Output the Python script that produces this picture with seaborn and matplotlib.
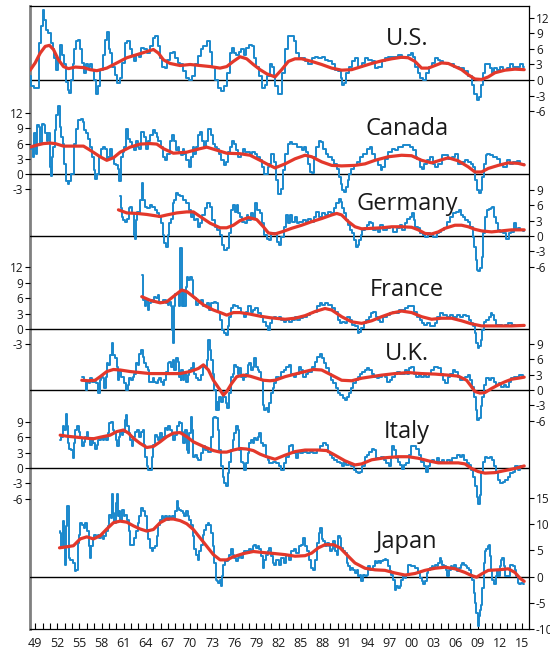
import numpy as np
import matplotlib
matplotlib.use("Agg")
import matplotlib.pyplot as plt
import seaborn as sns

# ---------------- data ----------------
us_t = [
1948.32, 1948.55, 1949.23, 1949.45, 1949.59, 1949.90, 1950.13, 1950.36, 1950.58, 1950.94,
1951.26, 1951.48, 1951.71, 1951.94, 1952.16, 1952.52, 1952.84, 1953.07, 1953.29, 1953.52,
1953.74, 1953.97, 1954.19, 1954.42, 1954.65, 1955.01, 1955.23, 1955.46, 1955.78, 1956.00,
1956.23, 1956.54, 1956.90, 1957.13, 1957.36, 1957.67, 1958.03, 1958.35, 1958.62, 1958.85,
1959.07, 1959.30, 1959.62, 1959.98, 1960.29, 1960.61, 1960.97, 1961.33, 1961.65, 1961.96,
1962.32, 1962.55, 1962.87, 1963.23, 1963.59, 1963.90, 1964.36, 1964.81, 1965.12, 1965.49,
1965.80, 1966.07, 1966.39, 1966.71, 1967.07, 1967.52, 1967.83, 1968.20, 1968.51, 1968.87,
1969.33, 1969.69, 1970.00, 1970.45, 1970.91, 1971.27, 1971.58, 1972.04, 1972.49, 1972.80,
1973.16, 1973.62, 1974.07, 1974.43, 1974.88, 1975.20, 1975.51, 1975.78, 1976.10, 1976.42,
1976.78, 1977.14, 1977.46, 1977.77, 1978.13, 1978.58, 1978.81, 1979.13, 1979.58, 1979.94,
1980.30, 1980.62, 1980.93, 1981.29, 1981.45, 1981.60, 1982.20, 1982.65, 1983.10, 1983.55,
1983.87, 1984.23, 1984.59, 1984.91, 1985.36, 1985.81, 1986.26, 1986.71, 1987.17, 1987.62,
1988.07, 1988.52, 1988.97, 1989.42, 1989.88, 1990.33, 1990.55, 1990.78, 1991.00, 1991.37,
1991.68, 1992.13, 1992.59, 1993.04, 1993.49, 1993.94, 1994.39, 1994.84, 1995.30, 1995.75,
1996.20, 1996.65, 1997.10, 1997.55, 1998.01, 1998.46, 1998.91, 1999.36, 1999.81, 2000.13,
2000.40, 2000.72, 2001.03, 2001.39, 2001.85, 2002.21, 2002.52, 2002.97, 2003.43, 2003.74,
2004.10, 2004.56, 2005.01, 2005.46, 2006.14, 2006.81, 2007.49, 2007.94, 2008.40, 2008.71,
2009.07, 2009.39, 2009.61, 2009.88, 2010.20, 2010.43, 2010.79, 2011.10, 2011.42, 2011.78,
2012.23, 2012.69, 2013.14, 2013.59, 2014.04, 2014.49, 2014.94, 2015.30]
us_v = [
0.8, -1.2, -1.5, -1.5, 7.2, 10.4, 13.5, 11.7, 9.7, 9.1,
7.2, 5.9, 4.3, 2.0, 3.9, 6.8, 4.9, 3.0, -0.3, -1.9,
-2.5, 0.0, 3.0, 5.9, 7.5, 7.8, 5.9, 3.3, 1.4, 3.0,
2.6, 3.0, 2.0, 0.0, -2.8, -1.2, 2.0, 4.9, 7.8, 9.3,
5.9, 5.2, 2.6, 1.0, -0.6, 0.4, 3.3, 7.2, 7.5, 5.9,
4.9, 3.6, 4.9, 4.5, 6.2, 5.9, 5.2, 6.5, 8.1, 8.5,
6.5, 4.3, 2.6, 2.3, 3.9, 5.2, 5.5, 4.3, 3.3, 3.0,
1.7, 0.4, 0.0, 0.7, 3.0, 4.6, 5.9, 6.5, 7.5, 5.5,
2.6, 0.0, -1.5, -2.2, -1.2, 1.4, 5.2, 6.2, 5.2, 4.9,
5.5, 5.9, 4.9, 6.2, 6.8, 6.5, 4.3, 2.6, 0.7, -1.5,
-0.9, 0.7, 3.0, 2.6, 0.7, -1.2, -2.8, 1.4, 5.9, 8.5,
8.6, 7.5, 5.2, 4.3, 4.3, 3.6, 3.0, 4.3, 4.5, 4.3,
4.5, 3.9, 3.6, 3.0, 2.0, 1.7, 0.4, -0.9, -0.6, 1.4,
2.6, 3.6, 4.3, 2.6, 3.2, 4.3, 3.9, 3.6, 2.3, 2.6,
3.6, 4.3, 4.5, 4.4, 4.5, 4.9, 4.3, 4.5, 4.9, 5.2,
4.5, 2.6, 1.4, 0.4, 0.0, 1.4, 2.6, 3.3, 4.3, 3.9,
3.6, 3.3, 3.0, 3.0, 2.6, 2.3, 1.7, 0.7, -0.9, -2.8,
-3.8, -3.2, -0.9, 1.4, 3.0, 3.0, 2.3, 1.4, 2.3, 2.0,
2.6, 2.0, 2.3, 3.0, 2.6, 2.6, 3.0, 2.6]
us_trend_t = [
1948.32, 1949.00, 1949.68, 1950.36, 1950.94, 1951.48, 1952.16, 1952.84, 1953.52, 1954.42,
1955.55, 1956.45, 1957.36, 1958.71, 1960.07, 1961.42, 1962.78, 1964.13, 1965.03, 1965.71,
1966.39, 1967.29, 1968.65, 1970.00, 1971.36, 1972.71, 1974.07, 1974.97, 1975.87, 1976.78,
1977.68, 1978.58, 1979.49, 1980.39, 1981.52, 1982.42, 1983.33, 1984.23, 1985.13, 1986.49,
1987.84, 1989.20, 1990.55, 1991.91, 1993.26, 1994.62, 1995.97, 1997.33, 1998.68, 1999.59,
2000.49, 2001.39, 2002.30, 2003.20, 2004.10, 2005.01, 2005.91, 2006.81, 2007.72, 2008.62,
2009.52, 2010.43, 2011.33, 2012.69, 2014.04, 2015.30]
us_trend_v = [
1.9, 3.3, 5.2, 6.5, 6.7, 5.9, 3.9, 2.6, 2.2, 2.5,
2.4, 2.0, 1.8, 2.3, 3.3, 4.3, 4.9, 5.5, 5.9, 5.2,
3.9, 3.2, 2.8, 3.0, 2.8, 2.6, 2.3, 2.6, 3.6, 4.5,
4.1, 3.0, 2.0, 1.2, 0.6, 2.0, 3.6, 4.1, 4.1, 3.6,
3.0, 2.3, 1.9, 2.0, 2.6, 3.2, 3.7, 4.1, 4.4, 4.3,
3.6, 2.3, 2.3, 2.8, 3.3, 3.2, 2.6, 2.0, 1.0, 0.2,
0.1, 0.6, 1.4, 1.9, 2.1, 2.0]

ca_t = [
1948.32, 1948.55, 1948.77, 1949.00, 1949.23, 1949.36, 1949.59, 1949.77, 1950.04, 1950.27,
1950.49, 1950.67, 1950.90, 1951.12, 1951.26, 1951.39, 1951.57, 1951.75, 1951.98, 1952.21,
1952.39, 1952.61, 1952.84, 1953.07, 1953.29, 1953.52, 1953.74, 1953.97, 1954.19, 1954.42,
1954.65, 1955.01, 1955.32, 1955.55, 1955.78, 1956.09, 1956.36, 1956.54, 1956.81, 1957.04,
1957.27, 1957.49, 1957.72, 1958.03, 1958.35, 1958.62, 1958.80, 1959.03, 1959.25, 1959.52,
1959.84, 1960.07, 1960.29, 1960.52, 1960.74, 1960.97, 1961.20, 1961.51, 1961.74, 1961.96,
1962.19, 1962.55, 1962.78, 1963.00, 1963.23, 1963.59, 1963.82, 1964.13, 1964.45, 1964.81,
1965.12, 1965.35, 1965.58, 1965.85, 1966.16, 1966.39, 1966.71, 1967.07, 1967.38, 1967.65,
1967.97, 1968.20, 1968.42, 1968.65, 1968.87, 1969.10, 1969.33, 1969.64, 1970.00, 1970.23,
1970.45, 1970.68, 1970.91, 1971.22, 1971.49, 1971.81, 1972.04, 1972.26, 1972.62, 1972.94,
1973.16, 1973.52, 1973.84, 1974.07, 1974.43, 1974.75, 1974.97, 1975.29, 1975.60, 1975.87,
1976.15, 1976.42, 1976.69, 1977.00, 1977.23, 1977.59, 1977.91, 1978.22, 1978.58, 1978.95,
1979.26, 1979.58, 1979.94, 1980.16, 1980.39, 1980.62, 1980.84, 1981.07, 1981.29, 1981.52,
1981.75, 1982.20, 1982.42, 1982.65, 1983.10, 1983.42, 1983.69, 1984.00, 1984.32, 1984.68,
1985.04, 1985.36, 1985.59, 1985.81, 1986.04, 1986.40, 1986.71, 1986.94, 1987.30, 1987.53,
1987.84, 1988.21, 1988.52, 1988.97, 1989.42, 1989.65, 1990.10, 1990.33, 1990.55, 1990.78,
1991.00, 1991.23, 1991.46, 1991.68, 1992.00, 1992.36, 1992.81, 1993.26, 1993.72, 1994.17,
1994.53, 1994.84, 1995.30, 1995.75, 1995.97, 1996.20, 1996.65, 1997.10, 1997.55, 1998.01,
1998.32, 1998.68, 1999.14, 1999.59, 2000.04, 2000.49, 2000.72, 2000.94, 2001.39, 2001.62,
2001.94, 2002.30, 2002.66, 2003.11, 2003.43, 2003.88, 2004.33, 2004.78, 2005.23, 2005.68,
2006.14, 2006.59, 2007.04, 2007.49, 2007.94, 2008.26, 2008.53, 2008.76, 2008.98, 2009.30,
2009.52, 2009.75, 2009.98, 2010.20, 2010.43, 2010.88, 2011.33, 2011.78, 2012.23, 2012.69,
2013.14, 2013.59, 2014.04, 2014.49, 2014.94, 2015.30]
ca_v = [
5.0, 5.3, 3.4, 8.0, 4.0, 9.6, 9.3, 6.0, 9.9, 9.6,
8.0, 6.6, 8.0, 1.4, -0.3, 3.4, 5.3, 8.6, 11.6, 13.4,
9.3, 7.3, 6.0, 2.0, -1.3, -2.0, -1.3, 0.0, 0.0, 6.0,
8.9, 10.6, 10.9, 10.3, 8.6, 8.0, 7.0, 5.3, 3.4, 0.7,
-0.9, 0.0, 3.4, 5.0, 5.3, 5.0, 2.7, 3.4, 5.0, 3.4,
2.0, 1.7, 1.0, -1.3, 3.4, 4.3, 5.3, 8.9, 7.0, 6.3,
5.3, 4.7, 6.6, 5.3, 5.0, 8.3, 7.3, 5.0, 6.6, 7.6,
8.6, 8.0, 7.3, 6.6, 5.3, 3.4, 2.7, 4.0, 6.6, 7.6,
6.6, 4.7, 5.3, 4.3, 3.7, 5.0, 4.0, 2.7, 1.4, 3.4,
5.3, 4.0, 5.3, 7.6, 8.3, 6.6, 5.3, 6.6, 8.9, 7.6,
6.0, 5.3, 5.0, 4.0, 2.7, 1.7, 2.4, 4.3, 5.3, 6.6,
6.0, 4.7, 3.4, 4.0, 5.0, 4.3, 4.3, 4.0, 4.3, 4.0,
3.4, 2.7, 1.4, 0.0, 0.0, 1.4, 2.0, 4.0, 4.0, 2.4,
-1.2, -3.9, -2.9, 0.7, 4.0, 6.0, 6.3, 6.0, 6.0, 5.3,
5.3, 4.7, 5.3, 4.3, 2.0, 0.4, 0.1, 3.4, 5.3, 6.6,
6.3, 5.0, 4.0, 3.4, 2.7, 2.0, 1.0, -0.6, -1.9, -3.2,
-3.6, -2.6, -1.2, 0.0, 1.0, 1.7, 2.4, 3.4, 4.0, 5.0,
5.3, 4.0, 2.7, 1.7, 0.7, 1.4, 3.0, 4.3, 5.0, 4.7,
5.3, 5.3, 5.7, 5.7, 5.3, 4.7, 3.4, 3.0, 1.4, 1.0,
2.0, 2.7, 3.4, 2.0, 1.4, 2.0, 3.7, 3.7, 3.0, 3.4,
3.9, 2.0, 2.4, 2.7, 2.4, 2.0, 1.4, -1.2, -3.2, -3.8,
-3.2, -0.6, 2.0, 3.7, 4.0, 3.7, 3.4, 3.0, 2.0, 1.4,
2.7, 2.0, 2.4, 2.5, 2.0, 1.9]
ca_trend_t = [
1948.32, 1949.23, 1950.13, 1951.03, 1951.71, 1952.84, 1954.19, 1955.55, 1956.45, 1957.81,
1958.71, 1959.61, 1960.52, 1961.87, 1963.23, 1964.58, 1965.49, 1966.39, 1967.74, 1969.55,
1971.36, 1972.26, 1973.62, 1974.97, 1976.78, 1978.13, 1979.49, 1980.39, 1981.52, 1982.88,
1984.23, 1985.59, 1986.49, 1987.84, 1989.20, 1990.55, 1992.36, 1993.72, 1995.07, 1996.88,
1998.68, 2000.04, 2001.39, 2002.75, 2004.10, 2005.01, 2006.36, 2007.72, 2008.62, 2009.52,
2010.43, 2011.78, 2013.14, 2014.49, 2015.30]
ca_trend_v = [
5.3, 5.7, 6.0, 6.1, 6.0, 5.5, 5.5, 5.5, 4.7, 3.4,
2.7, 3.2, 4.3, 5.3, 5.9, 6.0, 5.9, 5.0, 4.1, 4.3,
5.0, 5.3, 4.7, 4.1, 4.0, 3.7, 2.7, 2.0, 1.2, 2.0,
3.0, 3.7, 3.4, 2.4, 1.7, 1.6, 1.7, 2.0, 2.7, 3.4,
3.7, 3.6, 2.7, 2.2, 2.8, 3.2, 2.6, 1.4, 0.4, 0.4,
1.1, 1.7, 2.2, 2.1, 1.8]

de_t = [
1960.52, 1960.65, 1960.88, 1961.06, 1961.33, 1961.56, 1961.78, 1962.01, 1962.23, 1962.46,
1962.55, 1962.69, 1962.91, 1963.14, 1963.36, 1963.59, 1963.77, 1964.00, 1964.36, 1964.67,
1965.03, 1965.35, 1965.71, 1965.94, 1966.16, 1966.39, 1966.62, 1966.84, 1967.07, 1967.29,
1967.52, 1967.74, 1967.97, 1968.20, 1968.51, 1968.87, 1969.33, 1969.64, 1970.00, 1970.23,
1970.45, 1970.68, 1970.91, 1971.27, 1971.49, 1971.81, 1972.13, 1972.49, 1972.80, 1973.16,
1973.52, 1973.84, 1974.20, 1974.52, 1974.79, 1975.11, 1975.42, 1975.74, 1975.96, 1976.19,
1976.42, 1976.69, 1976.96, 1977.23, 1977.55, 1977.77, 1978.04, 1978.36, 1978.67, 1978.95,
1979.26, 1979.62, 1979.94, 1980.21, 1980.53, 1980.84, 1981.20, 1981.52, 1981.97, 1982.20,
1982.51, 1982.88, 1983.10, 1983.42, 1983.69, 1984.00, 1984.32, 1984.59, 1985.04, 1985.49,
1985.81, 1986.26, 1986.58, 1986.94, 1987.30, 1987.62, 1988.07, 1988.52, 1988.97, 1989.29,
1989.65, 1990.01, 1990.33, 1990.55, 1990.78, 1991.00, 1991.23, 1991.46, 1991.82, 1992.13,
1992.36, 1992.59, 1992.81, 1993.04, 1993.26, 1993.49, 1993.81, 1994.17, 1994.39, 1994.62,
1994.98, 1995.30, 1995.61, 1995.97, 1996.43, 1996.88, 1997.33, 1997.78, 1998.23, 1998.59,
1998.91, 1999.36, 1999.59, 1999.95, 2000.22, 2000.40, 2000.67, 2001.03, 2001.39, 2001.71,
2002.07, 2002.39, 2002.75, 2003.11, 2003.38, 2003.65, 2003.92, 2004.24, 2004.56, 2005.01,
2005.46, 2005.91, 2006.27, 2006.59, 2006.90, 2007.18, 2007.49, 2007.81, 2008.17, 2008.44,
2008.62, 2008.85, 2008.98, 2009.16, 2009.43, 2009.61, 2009.88, 2010.07, 2010.34, 2010.65,
2010.88, 2011.10, 2011.33, 2011.56, 2011.87, 2012.23, 2012.69, 2013.05, 2013.36, 2013.68,
2014.04, 2014.27, 2014.58, 2014.94, 2015.30]
de_v = [
7.7, 5.4, 3.8, 3.1, 2.8, 3.4, 5.4, 5.7, 4.4, 0.2,
-0.5, 3.1, 4.7, 4.4, 7.0, 10.3, 7.0, 5.7, 5.4, 6.0,
5.7, 5.1, 4.4, 3.8, 2.5, 0.2, -1.4, -2.1, 0.2, 2.5,
3.4, 6.4, 7.0, 8.3, 8.0, 7.7, 7.0, 6.4, 5.1, 3.8,
4.7, 3.1, 3.4, 1.8, 2.5, 4.1, 5.4, 6.5, 5.7, 3.1,
1.8, 1.2, 0.2, -1.8, -2.7, -2.4, 0.5, 5.1, 6.0, 4.7,
6.0, 4.4, 3.8, 2.8, 2.5, 4.1, 3.1, 4.4, 3.4, 6.4,
5.1, 4.4, 2.5, 0.2, -0.5, -0.8, 0.5, 0.5, -1.1, -1.8,
-0.1, 1.8, 4.1, 2.5, 4.1, 2.8, 3.8, 2.5, 2.8, 3.1,
2.5, 3.4, 2.8, 3.8, 4.7, 3.8, 4.4, 4.1, 4.7, 4.4,
5.4, 6.4, 7.3, 6.6, 5.4, 4.4, 3.1, 2.1, 1.2, 0.5,
-0.8, -2.1, -1.8, -0.8, 0.2, 1.2, 1.5, 2.1, 2.8, 2.5,
1.2, 1.5, 0.8, 2.1, 1.2, 1.5, 1.8, 0.8, 1.5, 2.1,
1.2, 2.5, 3.4, 3.8, 4.4, 3.1, 1.8, 1.5, 0.5, 0.2,
-0.1, 0.5, 0.2, -0.1, -0.1, 0.5, 0.8, 1.2, 1.5, 2.8,
3.8, 4.4, 4.7, 5.1, 4.1, 3.8, 3.1, 2.8, 1.8, -0.1,
-2.1, -4.7, -6.6, -6.9, -6.3, -4.0, 0.5, 3.8, 5.1, 5.2,
5.4, 5.7, 3.8, 2.5, 1.2, 0.8, 0.5, -0.5, 0.5, 0.8,
2.5, 1.2, 1.5, 1.2, 1.0]
de_trend_t = [
1960.29, 1961.42, 1962.78, 1964.13, 1965.94, 1966.84, 1968.20, 1969.55, 1970.45, 1971.36,
1972.71, 1974.07, 1974.97, 1975.87, 1976.78, 1977.91, 1979.04, 1979.94, 1980.62, 1981.52,
1982.42, 1983.78, 1985.13, 1986.49, 1987.84, 1989.20, 1989.88, 1990.55, 1991.46, 1992.36,
1993.26, 1994.62, 1995.97, 1997.33, 1998.68, 2000.04, 2000.94, 2001.85, 2002.75, 2003.65,
2004.56, 2005.91, 2006.81, 2007.72, 2008.62, 2009.52, 2010.88, 2012.23, 2013.59, 2015.30]
de_trend_v = [
5.1, 4.5, 4.4, 4.2, 3.8, 4.1, 4.5, 4.7, 4.7, 3.8,
2.5, 1.6, 1.6, 2.1, 3.0, 3.6, 3.2, 1.8, 0.6, 0.4,
0.8, 1.5, 2.1, 2.8, 3.4, 4.1, 4.4, 4.1, 2.8, 1.8,
1.4, 1.5, 1.6, 1.8, 1.8, 1.7, 1.2, 0.5, 0.4, 0.8,
1.5, 2.1, 2.1, 1.8, 1.3, 1.0, 0.8, 1.0, 1.2, 1.2]

fr_t = [
1963.45, 1963.77, 1963.91, 1964.13, 1964.36, 1964.58, 1964.81, 1965.03, 1965.26, 1965.49,
1965.71, 1965.94, 1966.25, 1966.52, 1966.84, 1967.07, 1967.29, 1967.52, 1967.65, 1967.79,
1967.92, 1968.11, 1968.33, 1968.56, 1968.78, 1968.92, 1969.10, 1969.33, 1969.46, 1969.64,
1969.87, 1970.09, 1970.32, 1970.45, 1970.68, 1970.91, 1971.27, 1971.58, 1971.90, 1972.17,
1972.49, 1972.71, 1973.07, 1973.39, 1973.62, 1973.93, 1974.20, 1974.43, 1974.75, 1974.97,
1975.20, 1975.42, 1975.65, 1975.96, 1976.33, 1976.78, 1977.14, 1977.46, 1977.77, 1978.04,
1978.36, 1978.67, 1979.04, 1979.40, 1979.71, 1980.07, 1980.39, 1980.71, 1980.93, 1981.20,
1981.52, 1981.88, 1982.20, 1982.51, 1982.88, 1983.24, 1983.55, 1984.00, 1984.32, 1984.68,
1985.13, 1985.59, 1986.04, 1986.49, 1986.94, 1987.39, 1987.71, 1988.07, 1988.52, 1988.97,
1989.42, 1989.88, 1990.19, 1990.46, 1990.78, 1991.10, 1991.46, 1991.82, 1992.13, 1992.59,
1992.81, 1993.04, 1993.35, 1993.72, 1994.08, 1994.39, 1994.71, 1994.98, 1995.30, 1995.61,
1995.97, 1996.43, 1996.88, 1997.33, 1997.78, 1998.14, 1998.46, 1998.91, 1999.36, 1999.81,
2000.13, 2000.49, 2000.94, 2001.30, 2001.62, 2001.94, 2002.30, 2002.75, 2003.11, 2003.43,
2003.65, 2004.10, 2004.56, 2005.01, 2005.46, 2005.91, 2006.36, 2006.81, 2007.27, 2007.63,
2007.94, 2008.26, 2008.53, 2008.71, 2008.89, 2009.07, 2009.30, 2009.52, 2009.75, 2009.98,
2010.34, 2010.65, 2010.88, 2011.10, 2011.33, 2011.69, 2012.01, 2012.46, 2012.91, 2013.36,
2013.81, 2014.27, 2014.72, 2015.30]
fr_v = [
10.5, 5.6, 4.4, 5.6, 3.7, 5.0, 5.6, 5.3, 6.3, 6.0,
6.6, 5.3, 5.0, 5.6, 5.0, 4.7, 5.3, 4.4, -0.2, -2.8,
4.4, 6.9, 6.9, 4.4, 15.7, 4.4, 7.6, 4.4, 8.2, 10.2,
9.5, 10.2, 9.5, 6.3, 6.0, 4.7, 5.0, 5.6, 4.4, 4.7,
5.0, 3.7, 5.0, 5.3, 5.0, 3.4, 1.8, -0.2, -0.8, -1.2,
0.5, 2.4, 4.0, 4.7, 4.5, 4.0, 3.1, 2.4, 3.4, 4.4,
3.4, 3.7, 4.0, 3.1, 2.4, 1.4, 0.5, -0.2, 1.1, 2.1,
2.4, 2.1, 2.4, 1.8, 1.4, 1.8, 1.4, 1.8, 2.4, 1.8,
2.1, 2.4, 2.7, 3.1, 3.4, 4.4, 5.0, 4.7, 5.0, 4.7,
4.0, 3.4, 1.8, 1.1, 1.4, 1.1, 2.4, 1.8, 0.8, 0.5,
-0.8, -0.5, 0.1, 1.1, 1.8, 2.4, 3.1, 3.4, 2.4, 1.8,
1.4, 2.4, 2.7, 3.1, 3.4, 3.1, 3.7, 3.7, 4.0, 4.5,
4.4, 3.4, 2.4, 1.8, 1.1, 0.8, 1.1, 0.5, 0.5, 1.1,
2.4, 3.1, 2.7, 2.4, 2.7, 2.4, 2.7, 2.4, 2.7, 2.5,
1.8, 1.1, 0.5, -0.8, -2.8, -3.8, -3.4, -2.1, -0.2, 1.4,
1.8, 2.4, 3.1, 2.7, 1.8, 0.8, 0.8, 0.5, 0.8, 1.1,
0.8, 0.5, 0.6, 0.6]
fr_trend_t = [
1963.45, 1964.58, 1965.94, 1966.84, 1967.97, 1968.87, 1969.55, 1970.45, 1971.81, 1973.16,
1974.29, 1974.97, 1975.87, 1976.78, 1978.13, 1979.49, 1980.84, 1981.52, 1982.88, 1984.23,
1985.59, 1986.94, 1988.30, 1989.20, 1990.55, 1991.91, 1993.26, 1994.62, 1995.97, 1997.33,
1998.68, 2000.04, 2001.39, 2002.75, 2004.10, 2005.46, 2006.81, 2008.17, 2009.52, 2010.88,
2012.23, 2013.59, 2015.30]
fr_trend_v = [
6.3, 5.6, 5.1, 5.3, 6.6, 7.6, 7.3, 6.3, 4.7, 3.7,
3.1, 2.7, 3.2, 3.2, 2.9, 2.5, 2.2, 2.1, 1.9, 2.1,
2.6, 3.4, 4.0, 3.7, 2.4, 1.4, 1.1, 1.6, 2.4, 3.1,
3.5, 3.2, 2.4, 1.9, 2.1, 2.1, 1.6, 1.0, 0.6, 0.6,
0.6, 0.6, 0.7]

uk_t = [
1955.32, 1955.55, 1955.78, 1956.00, 1956.14, 1956.36, 1956.59, 1956.81, 1957.13, 1957.45,
1957.67, 1957.81, 1958.03, 1958.26, 1958.49, 1958.62, 1958.80, 1959.03, 1959.25, 1959.48,
1959.70, 1959.98, 1960.16, 1960.29, 1960.52, 1960.74, 1960.97, 1961.20, 1961.42, 1961.65,
1961.87, 1962.10, 1962.32, 1962.55, 1962.78, 1963.00, 1963.23, 1963.45, 1963.68, 1963.91,
1964.13, 1964.36, 1964.58, 1964.81, 1965.03, 1965.26, 1965.49, 1965.71, 1965.94, 1966.16,
1966.39, 1966.62, 1966.84, 1967.07, 1967.29, 1967.52, 1967.74, 1967.97, 1968.20, 1968.42,
1968.65, 1968.78, 1968.87, 1969.10, 1969.33, 1969.55, 1969.78, 1970.00, 1970.23, 1970.45,
1970.68, 1970.91, 1971.27, 1971.58, 1971.90, 1972.17, 1972.35, 1972.58, 1972.80, 1972.98,
1973.16, 1973.39, 1973.52, 1973.70, 1973.88, 1974.07, 1974.29, 1974.52, 1974.75, 1974.97,
1975.15, 1975.42, 1975.65, 1975.87, 1976.10, 1976.33, 1976.55, 1976.78, 1977.00, 1977.23,
1977.46, 1977.68, 1977.91, 1978.13, 1978.36, 1978.58, 1978.81, 1979.04, 1979.26, 1979.49,
1979.71, 1979.94, 1980.16, 1980.39, 1980.62, 1980.84, 1981.07, 1981.29, 1981.52, 1981.88,
1982.20, 1982.51, 1982.88, 1983.24, 1983.55, 1983.87, 1984.23, 1984.59, 1984.91, 1985.13,
1985.49, 1985.81, 1986.26, 1986.71, 1987.03, 1987.39, 1987.71, 1987.93, 1988.30, 1988.61,
1988.97, 1989.29, 1989.56, 1989.88, 1990.19, 1990.55, 1990.87, 1991.10, 1991.37, 1991.68,
1992.00, 1992.27, 1992.59, 1992.90, 1993.17, 1993.49, 1993.81, 1994.17, 1994.48, 1994.84,
1995.16, 1995.52, 1995.84, 1996.20, 1996.52, 1996.88, 1997.24, 1997.55, 1997.92, 1998.23,
1998.59, 1998.91, 1999.27, 1999.59, 1999.81, 2000.13, 2000.49, 2000.85, 2001.17, 2001.48,
2001.85, 2002.21, 2002.52, 2002.84, 2003.20, 2003.52, 2003.83, 2004.10, 2004.42, 2004.78,
2005.10, 2005.46, 2005.77, 2006.14, 2006.45, 2006.81, 2007.13, 2007.49, 2007.81, 2008.17,
2008.40, 2008.62, 2008.85, 2009.07, 2009.30, 2009.52, 2009.75, 2009.98, 2010.29, 2010.65,
2010.97, 2011.33, 2011.65, 2012.01, 2012.32, 2012.69, 2013.00, 2013.36, 2013.68, 2014.04,
2014.36, 2014.72, 2015.03, 2015.30]
uk_v = [
2.6, 2.6, 1.9, 0.0, 1.6, 1.3, 2.3, 1.6, 1.6, 1.3,
-0.6, 1.9, 2.6, 2.3, 0.3, 2.6, 5.2, 4.9, 6.8, 9.1,
6.8, 6.2, 4.5, 1.9, 3.9, 2.6, 2.6, 1.3, 0.0, 1.0,
2.3, 1.9, 2.6, 3.2, 5.2, 4.9, 7.1, 7.8, 6.5, 5.2,
4.5, 3.9, 1.6, 1.6, 2.3, 1.6, 1.3, 1.9, 2.3, 1.6,
1.0, 1.9, 3.6, 5.2, 5.5, 4.5, 5.8, 3.9, 6.2, 5.5,
2.6, 1.9, 3.9, 1.9, 3.2, 1.6, 2.9, 3.9, 4.2, 5.2,
3.2, 2.3, 1.9, 2.9, 4.5, 4.5, 5.8, 9.7, 7.8, 5.8,
3.2, 0.0, -3.9, -2.3, -3.9, -1.3, -2.3, -0.3, -1.3, -2.6,
-3.6, -0.6, 2.6, 3.2, 4.9, 4.5, 3.2, 4.2, 2.6, 1.9,
2.6, 3.2, 4.9, 5.2, 3.9, 4.5, 6.2, 4.5, 3.9, 3.6,
1.9, -2.9, -3.9, -3.6, -4.2, -2.6, -0.6, 0.3, 1.3, 2.6,
2.3, 3.6, 3.9, 4.5, 4.9, 3.2, 2.6, 3.2, 4.5, 3.9,
2.6, 3.2, 3.6, 4.5, 5.5, 6.5, 7.0, 6.2, 5.2, 4.2,
3.2, 1.9, 1.3, 0.3, -0.6, -1.0, -1.6, -1.9, -1.3, -0.6,
0.3, 1.3, 1.9, 2.6, 3.2, 3.6, 3.9, 4.2, 3.9, 3.2,
2.6, 2.3, 2.6, 2.9, 2.6, 1.6, 1.9, 2.6, 3.2, 3.6,
3.2, 3.2, 3.9, 3.2, 4.2, 4.5, 3.2, 2.6, 2.9, 2.6,
2.9, 2.6, 3.2, 3.9, 4.5, 4.5, 4.2, 3.2, 1.9, 1.3,
2.6, 3.2, 3.9, 3.6, 2.6, 1.9, 2.3, 2.6, 2.9, 1.9,
0.6, -1.3, -3.9, -5.8, -5.5, -3.2, -1.3, 1.0, 2.3, 1.9,
2.3, 1.6, 1.0, 1.3, 0.6, 1.0, 0.6, 1.6, 2.3, 2.6,
2.6, 2.9, 2.9, 2.6]
uk_trend_t = [
1955.32, 1956.23, 1957.13, 1957.81, 1958.71, 1959.61, 1960.52, 1961.87, 1963.23, 1964.58,
1965.94, 1967.29, 1968.65, 1970.00, 1971.13, 1971.81, 1972.49, 1973.16, 1974.07, 1974.52,
1974.97, 1975.65, 1976.33, 1977.23, 1978.13, 1979.04, 1979.94, 1980.84, 1981.52, 1982.88,
1984.23, 1985.59, 1986.71, 1987.84, 1989.20, 1990.55, 1991.91, 1993.26, 1994.62, 1995.97,
1997.78, 1999.59, 2001.39, 2003.20, 2005.01, 2006.36, 2007.49, 2008.17, 2008.62, 2009.30,
2009.98, 2010.88, 2011.78, 2012.69, 2013.59, 2014.49, 2015.30]
uk_trend_v = [
1.9, 1.8, 1.9, 2.6, 3.6, 4.0, 3.9, 3.6, 3.4, 3.2,
3.2, 3.2, 3.2, 3.6, 4.2, 4.9, 3.9, 1.9, 0.0, -1.0,
-0.3, 1.3, 2.6, 2.9, 2.7, 2.3, 1.9, 1.8, 1.9, 2.6,
3.1, 3.6, 4.0, 3.9, 2.9, 1.9, 1.8, 2.3, 2.6, 2.9,
3.2, 3.4, 3.2, 3.1, 2.9, 2.7, 1.9, 0.6, -0.3, -0.6,
-0.5, 0.3, 1.0, 1.6, 2.1, 2.3, 2.5]

it_t = [
1952.39, 1952.61, 1952.84, 1953.07, 1953.20, 1953.38, 1953.52, 1953.74, 1953.97, 1954.19,
1954.37, 1954.56, 1954.78, 1955.01, 1955.23, 1955.46, 1955.68, 1955.91, 1956.09, 1956.32,
1956.54, 1956.77, 1956.99, 1957.22, 1957.45, 1957.72, 1958.03, 1958.26, 1958.49, 1958.71,
1958.94, 1959.16, 1959.39, 1959.61, 1959.84, 1960.07, 1960.20, 1960.43, 1960.65, 1960.88,
1961.06, 1961.24, 1961.38, 1961.56, 1961.78, 1962.01, 1962.19, 1962.41, 1962.64, 1962.91,
1963.23, 1963.45, 1963.68, 1963.82, 1964.00, 1964.22, 1964.45, 1964.67, 1964.90, 1965.12,
1965.35, 1965.58, 1965.80, 1966.03, 1966.25, 1966.48, 1966.71, 1966.93, 1967.16, 1967.38,
1967.61, 1967.83, 1968.11, 1968.33, 1968.56, 1968.78, 1968.96, 1969.19, 1969.42, 1969.64,
1969.78, 1970.00, 1970.23, 1970.36, 1970.54, 1970.77, 1971.00, 1971.27, 1971.58, 1971.90,
1972.26, 1972.71, 1972.94, 1973.16, 1973.39, 1973.62, 1973.84, 1974.07, 1974.29, 1974.52,
1974.75, 1974.97, 1975.20, 1975.42, 1975.65, 1975.87, 1976.10, 1976.33, 1976.55, 1976.78,
1977.00, 1977.23, 1977.46, 1977.68, 1977.91, 1978.13, 1978.36, 1978.58, 1978.81, 1979.04,
1979.26, 1979.49, 1979.71, 1979.94, 1980.16, 1980.39, 1980.62, 1980.84, 1981.07, 1981.29,
1981.52, 1981.88, 1982.20, 1982.51, 1982.88, 1983.24, 1983.55, 1983.87, 1984.14, 1984.46,
1984.77, 1985.13, 1985.59, 1986.04, 1986.49, 1986.94, 1987.39, 1987.84, 1988.21, 1988.52,
1988.75, 1989.11, 1989.42, 1989.74, 1990.10, 1990.46, 1990.78, 1991.00, 1991.32, 1991.68,
1992.00, 1992.36, 1992.59, 1992.81, 1993.17, 1993.49, 1993.81, 1994.17, 1994.48, 1994.84,
1995.07, 1995.43, 1995.75, 1996.06, 1996.43, 1996.79, 1997.10, 1997.33, 1997.55, 1997.78,
1998.01, 1998.32, 1998.68, 1998.91, 1999.14, 1999.50, 1999.81, 2000.04, 2000.49, 2000.85,
2001.17, 2001.48, 2001.85, 2002.12, 2002.39, 2002.66, 2002.97, 2003.29, 2003.65, 2003.97,
2004.33, 2004.65, 2005.01, 2005.37, 2005.68, 2006.00, 2006.36, 2006.72, 2007.04, 2007.36,
2007.72, 2007.94, 2008.26, 2008.53, 2008.76, 2008.94, 2009.16, 2009.39, 2009.61, 2009.84,
2010.11, 2010.43, 2010.79, 2011.10, 2011.33, 2011.56, 2011.87, 2012.23, 2012.59, 2012.91,
2013.23, 2013.59, 2013.95, 2014.27, 2014.58, 2014.94, 2015.30]
it_v = [
5.5, 6.1, 8.1, 7.4, 10.6, 8.1, 4.8, 3.8, 3.5, 1.9,
4.8, 7.4, 8.1, 7.1, 5.8, 4.2, 5.1, 6.1, 7.1, 5.8,
4.5, 5.8, 4.8, 3.8, 4.5, 5.5, 5.8, 5.5, 6.1, 5.5,
6.8, 8.7, 9.0, 7.4, 6.8, 5.5, 4.2, 6.1, 7.1, 6.4,
7.1, 9.4, 10.3, 8.1, 6.8, 5.5, 4.2, 6.1, 7.1, 7.4,
6.1, 7.1, 7.4, 4.5, 2.2, 0.3, -0.4, -0.3, 2.2, 4.5,
6.4, 6.1, 5.5, 6.8, 5.5, 6.1, 7.7, 7.4, 8.1, 7.4,
6.8, 5.5, 6.4, 8.1, 9.0, 8.7, 7.1, 4.8, 7.4, 3.5,
2.9, 6.8, 10.0, 7.4, 2.2, 2.5, 1.9, 1.6, 2.9, 4.2,
3.5, 3.2, 6.1, 9.7, 10.0, 9.7, 7.4, 3.5, 0.3, -1.7,
-3.0, -3.6, -1.0, 1.2, 3.5, 5.5, 6.8, 8.1, 7.4, 3.5,
1.2, 0.9, -0.4, 0.9, 2.9, 4.8, 5.5, 4.8, 5.8, 5.5,
6.1, 6.8, 4.8, 4.2, 4.5, 2.2, 1.6, 0.9, 0.9, 1.2,
1.2, 0.9, 0.3, -0.4, 0.9, 2.2, 4.2, 4.5, 2.9, 1.9,
3.2, 2.9, 3.2, 2.9, 3.2, 2.9, 3.5, 4.2, 4.8, 4.5,
3.2, 2.5, 1.9, 1.6, 1.2, 0.9, 0.3, 1.2, 0.6, 0.9,
0.3, -0.4, -0.7, -1.0, -0.7, 0.3, 2.2, 2.5, 3.2, 3.8,
3.5, 1.9, 1.9, 2.2, 1.6, 0.9, 0.3, 2.2, 4.2, 3.5,
1.9, 1.2, 0.6, -0.1, 0.6, 0.9, 2.5, 4.2, 4.2, 3.8,
2.5, 1.2, 0.3, -0.7, 0.3, 1.2, 1.6, 1.2, 1.9, 1.2,
1.6, 0.9, 1.6, 1.2, 1.9, 1.9, 2.5, 2.2, 2.5, 1.6,
0.9, 0.6, -0.4, -1.7, -3.6, -5.6, -7.0, -5.3, -1.0, 1.2,
2.2, 1.9, 2.2, 1.6, 0.3, -1.0, -2.3, -3.0, -2.7, -2.3,
-1.7, -1.0, -0.7, 0.3, -0.4, 0.3, 0.4]
it_trend_t = [
1952.39, 1953.29, 1954.65, 1956.00, 1956.90, 1957.81, 1959.16, 1960.07, 1960.97, 1961.65,
1962.32, 1963.23, 1964.13, 1965.03, 1965.94, 1966.84, 1967.74, 1968.65, 1969.55, 1970.45,
1971.81, 1973.16, 1974.07, 1974.97, 1975.87, 1976.78, 1977.68, 1978.58, 1979.49, 1980.39,
1981.52, 1982.88, 1984.23, 1985.59, 1987.39, 1988.52, 1989.65, 1991.00, 1992.36, 1993.26,
1994.62, 1996.43, 1998.23, 1999.59, 2000.94, 2002.30, 2003.65, 2005.01, 2006.36, 2007.27,
2008.17, 2009.07, 2009.98, 2011.33, 2012.69, 2014.04, 2015.30]
it_trend_v = [
6.4, 6.2, 6.0, 5.8, 5.7, 6.0, 6.4, 7.1, 7.4, 6.8,
5.8, 4.8, 4.0, 4.2, 5.1, 6.1, 6.8, 6.9, 6.1, 5.1,
4.2, 3.4, 3.1, 3.1, 3.5, 3.8, 3.7, 3.4, 2.7, 2.2,
1.7, 2.5, 3.2, 3.5, 3.5, 3.4, 2.5, 1.4, 0.6, 0.8,
1.6, 2.0, 2.2, 2.2, 1.9, 1.4, 1.0, 1.0, 1.0, 0.8,
-0.1, -0.7, -1.0, -0.9, -0.5, -0.1, 0.4]

jp_t = [
1952.30, 1952.48, 1952.66, 1952.84, 1953.02, 1953.16, 1953.29, 1953.43, 1953.61, 1953.83,
1954.10, 1954.28, 1954.47, 1954.65, 1954.83, 1955.01, 1955.19, 1955.46, 1955.68, 1955.91,
1956.14, 1956.36, 1956.54, 1956.72, 1956.90, 1957.13, 1957.36, 1957.58, 1957.81, 1958.03,
1958.26, 1958.49, 1958.71, 1958.94, 1959.16, 1959.30, 1959.48, 1959.66, 1959.84, 1959.98,
1960.16, 1960.29, 1960.47, 1960.65, 1960.88, 1961.10, 1961.33, 1961.56, 1961.78, 1962.01,
1962.32, 1962.55, 1962.78, 1963.00, 1963.23, 1963.54, 1963.77, 1964.00, 1964.22, 1964.49,
1964.67, 1964.90, 1965.12, 1965.35, 1965.58, 1965.80, 1966.03, 1966.25, 1966.52, 1966.75,
1966.98, 1967.20, 1967.43, 1967.65, 1967.88, 1968.11, 1968.24, 1968.42, 1968.65, 1968.87,
1969.10, 1969.33, 1969.55, 1969.78, 1970.00, 1970.23, 1970.45, 1970.68, 1970.91, 1971.13,
1971.36, 1971.58, 1971.81, 1972.04, 1972.26, 1972.49, 1972.71, 1972.94, 1973.16, 1973.39,
1973.52, 1973.70, 1973.93, 1974.16, 1974.29, 1974.43, 1974.61, 1974.79, 1974.97, 1975.20,
1975.42, 1975.65, 1975.87, 1976.10, 1976.33, 1976.55, 1976.78, 1977.00, 1977.23, 1977.46,
1977.68, 1977.91, 1978.13, 1978.36, 1978.58, 1978.81, 1979.04, 1979.26, 1979.49, 1979.71,
1979.94, 1980.16, 1980.39, 1980.62, 1980.84, 1981.07, 1981.29, 1981.52, 1981.88, 1982.20,
1982.51, 1982.88, 1983.24, 1983.55, 1983.87, 1984.23, 1984.55, 1984.91, 1985.22, 1985.49,
1985.68, 1985.90, 1986.26, 1986.58, 1986.85, 1987.03, 1987.30, 1987.53, 1987.75, 1987.93,
1988.16, 1988.43, 1988.66, 1988.88, 1989.11, 1989.33, 1989.56, 1989.79, 1990.01, 1990.19,
1990.42, 1990.64, 1990.87, 1991.10, 1991.32, 1991.55, 1991.77, 1992.00, 1992.22, 1992.45,
1992.68, 1992.90, 1993.13, 1993.35, 1993.58, 1993.81, 1994.03, 1994.26, 1994.48, 1994.71,
1994.93, 1995.16, 1995.39, 1995.61, 1995.84, 1996.06, 1996.29, 1996.52, 1996.74, 1996.97,
1997.19, 1997.42, 1997.64, 1997.87, 1998.10, 1998.32, 1998.55, 1998.77, 1999.00, 1999.23,
1999.45, 1999.68, 1999.90, 2000.13, 2000.40, 2000.63, 2000.85, 2001.08, 2001.30, 2001.53,
2001.75, 2001.98, 2002.21, 2002.43, 2002.66, 2002.88, 2003.11, 2003.34, 2003.56, 2003.79,
2003.92, 2004.10, 2004.33, 2004.56, 2004.78, 2005.01, 2005.23, 2005.46, 2005.68, 2005.91,
2006.14, 2006.36, 2006.59, 2006.81, 2007.04, 2007.27, 2007.49, 2007.72, 2007.94, 2008.17,
2008.40, 2008.53, 2008.71, 2008.89, 2009.07, 2009.21, 2009.39, 2009.52, 2009.70, 2009.88,
2010.07, 2010.25, 2010.43, 2010.56, 2010.74, 2010.88, 2011.10, 2011.33, 2011.51, 2011.69,
2011.87, 2012.05, 2012.23, 2012.41, 2012.59, 2012.77, 2013.05, 2013.27, 2013.50, 2013.72,
2013.95, 2014.13, 2014.31, 2014.49, 2014.72, 2014.94, 2015.30]
jp_v = [
8.7, 8.3, 5.7, 10.6, 5.7, 2.3, 9.6, 13.4, 3.6, 3.2,
3.2, 2.6, 1.0, 1.3, 6.4, 8.0, 10.3, 9.9, 9.3, 10.3,
8.7, 5.8, 3.6, 5.8, 7.1, 8.0, 7.7, 8.0, 7.4, 8.0,
7.1, 7.7, 8.7, 9.6, 11.8, 11.2, 15.7, 12.2, 10.3, 14.1,
15.7, 11.5, 12.5, 10.9, 12.8, 11.5, 11.8, 10.9, 8.7, 6.1,
6.1, 7.4, 8.7, 10.3, 11.5, 13.1, 12.5, 11.5, 9.0, 7.1,
5.5, 4.8, 5.5, 5.8, 7.7, 9.9, 10.9, 11.5, 11.2, 11.5,
10.9, 11.5, 11.2, 11.5, 11.2, 12.5, 14.4, 13.1, 12.8, 12.5,
12.2, 11.5, 12.5, 11.5, 10.9, 9.9, 7.7, 5.2, 4.2, 3.2,
4.8, 6.1, 8.0, 9.0, 9.9, 10.3, 9.9, 8.3, 5.8, 2.6,
-0.6, -0.9, -1.2, -0.6, -1.8, 0.1, 2.3, 3.2, 2.9, 3.2,
4.2, 5.2, 4.2, 3.6, 2.9, 3.6, 4.2, 3.6, 4.5, 4.8,
4.8, 4.5, 5.2, 4.8, 5.8, 6.1, 5.5, 5.8, 5.2, 3.9,
1.7, 3.2, 4.2, 4.8, 5.5, 3.9, 2.6, 2.3, 3.2, 2.3,
3.6, 2.6, 4.2, 3.2, 4.8, 5.2, 4.5, 5.8, 6.1, 7.4,
5.8, 4.8, 3.2, 1.6, 1.3, 3.2, 6.4, 8.3, 9.3, 7.1,
6.8, 5.8, 6.4, 5.8, 4.8, 5.2, 6.8, 4.8, 4.2, 7.7,
7.4, 5.5, 4.8, 4.5, 2.6, 2.0, 1.3, 1.6, 1.3, 0.7,
1.3, 0.1, 0.4, -0.9, 0.4, 0.1, 0.4, 2.0, 1.3, 1.3,
2.0, 2.9, 2.6, 2.9, 2.6, 2.9, 3.2, 3.4, 3.2, 2.0,
1.0, 0.4, -0.6, -2.5, -1.8, -2.2, -1.8, -0.6, 0.1, -0.3,
0.4, 2.3, 2.3, 2.0, 2.0, 1.6, 1.6, 0.7, -0.3, -0.9,
-1.5, -0.9, 0.7, 1.3, 1.6, 2.0, 1.6, 2.3, 2.0, 2.6,
3.6, 2.9, 2.3, 2.0, 1.3, 0.1, 1.3, 2.0, 1.6, 2.3,
1.6, 1.0, 1.6, 2.3, 2.6, 2.3, 2.0, 1.6, 1.3, 0.4,
-0.6, -3.1, -5.0, -6.9, -9.5, -7.6, -6.3, -5.4, -2.2, 2.6,
4.8, 5.2, 5.8, 6.1, 3.9, 1.3, -0.6, -1.5, 0.1, 1.0,
0.1, 2.0, 3.2, 3.6, 2.0, 0.1, 0.1, 0.1, 2.3, 2.3,
2.0, 1.3, 0.1, -1.2, -1.5, -1.2, -1.5]
jp_trend_t = [
1952.30, 1953.29, 1954.19, 1955.10, 1956.00, 1956.90, 1957.81, 1958.71, 1959.61, 1960.52,
1961.42, 1962.32, 1963.23, 1964.13, 1965.03, 1965.94, 1966.84, 1967.74, 1968.65, 1969.55,
1970.45, 1971.36, 1972.26, 1973.16, 1974.07, 1974.97, 1975.87, 1977.23, 1978.58, 1979.94,
1981.52, 1982.88, 1984.23, 1985.59, 1986.49, 1987.39, 1988.30, 1989.42, 1990.33, 1991.23,
1992.36, 1993.72, 1995.07, 1996.43, 1997.78, 1999.14, 2000.49, 2001.85, 2003.20, 2004.56,
2005.91, 2007.27, 2008.17, 2008.85, 2009.52, 2010.43, 2011.78, 2013.14, 2014.04, 2014.72,
2015.30]
jp_trend_v = [
5.5, 5.7, 5.9, 7.2, 7.6, 7.2, 7.8, 9.1, 10.3, 10.6,
10.4, 9.7, 9.1, 8.7, 9.0, 10.3, 11.0, 11.0, 10.7, 10.1,
9.0, 7.4, 5.8, 4.2, 3.2, 3.2, 3.8, 4.4, 4.8, 4.6,
4.4, 4.2, 3.9, 4.0, 4.5, 5.5, 6.1, 6.1, 5.5, 4.2,
2.6, 1.6, 1.3, 1.2, 0.7, 0.3, 0.6, 1.2, 1.6, 1.8,
1.5, 0.8, 0.2, -0.1, 0.5, 1.2, 1.3, 1.5, 0.8, -0.3,
-0.9]

countries = ["U.S.", "Canada", "Germany", "France", "U.K.", "Italy", "Japan"]
x_tick_years = list(range(1949, 2016, 3))
x_tick_labels = ["%02d" % (y % 100) for y in x_tick_years]

# ---------------- style ----------------
sns.set_theme(style="ticks")
plt.rcParams['font.family'] = ['Open Sans', 'DejaVu Sans']

BLUE = "#1a88cc"
RED = "#e3382b"
TXT = "#1a1a1a"

W, H = 550, 653
L, R, T, B = 30, 529, 6, 629
XMIN, XMAX = 1948.3, 2015.95
rect = [L / W, 1 - B / H, (R - L) / W, (B - T) / H]

fig = plt.figure(figsize=(W / 100, H / 100), dpi=100)
fig.patch.set_facecolor("white")

# frame + x axis
ax0 = fig.add_axes(rect)
ax0.set_xlim(XMIN, XMAX)
ax0.set_ylim(0, 1)
ax0.set_yticks([])
ax0.set_xticks(x_tick_years)
ax0.set_xticklabels(x_tick_labels)
ax0.set_xticks(range(1949, 2016), minor=True)
ax0.tick_params(axis="x", which="both", direction="in", length=4, width=0.8,
                color="black", labelsize=9, pad=6, labelcolor=TXT, top=False)
for side in ["top", "right", "bottom"]:
    ax0.spines[side].set_color("black")
    ax0.spines[side].set_linewidth(0.9)
ax0.spines["left"].set_color("#808080")
ax0.spines["left"].set_linewidth(2.0)

# panel layout: (zero-line pixel row, pixels per unit, ticks, tick side, label baseline row)
layout = {
    "U.S.":    (80, 5.17, [12, 9, 6, 3, 0, -3, -6], "right", 45),
    "Canada":  (174, 5.07, [12, 9, 6, 3, 0, -3], "left", 135),
    "Germany": (236, 5.13, [9, 6, 3, 0, -3, -6], "right", 210),
    "France":  (329, 5.13, [12, 9, 6, 3, 0, -3], "left", 296.5),
    "U.K.":    (390, 5.13, [9, 6, 3, 0, -3, -6], "right", 360),
    "Italy":   (468, 5.13, [9, 6, 3, 0, -3, -6], "left", 438),
    "Japan":   (577, 5.24, [15, 10, 5, 0, -5, -10], "right", 548),
}
series = {
    "U.S.": (us_t, us_v, us_trend_t, us_trend_v),
    "Canada": (ca_t, ca_v, ca_trend_t, ca_trend_v),
    "Germany": (de_t, de_v, de_trend_t, de_trend_v),
    "France": (fr_t, fr_v, fr_trend_t, fr_trend_v),
    "U.K.": (uk_t, uk_v, uk_trend_t, uk_trend_v),
    "Italy": (it_t, it_v, it_trend_t, it_trend_v),
    "Japan": (jp_t, jp_v, jp_trend_t, jp_trend_v),
}

for name in countries:
    y0, s, ticks, side, base = layout[name]
    t, v, rt, rv = series[name]
    n = min(len(t), len(v)); t, v = t[:n], v[:n]
    m = min(len(rt), len(rv)); rt, rv = rt[:m], rv[:m]
    ax = fig.add_axes(rect)
    ax.patch.set_visible(False)
    for sp in ax.spines.values():
        sp.set_visible(False)
    ax.set_xlim(XMIN, XMAX)
    ax.set_ylim(-(B - y0) / s, (y0 - T) / s)
    ax.set_xticks([])
    ax.axhline(0, color="black", lw=1.0, zorder=1)
    sns.lineplot(x=t, y=v, ax=ax, color=BLUE, linewidth=1.4, estimator=None,
                 sort=False, zorder=2, drawstyle="steps-mid")
    sns.lineplot(x=rt, y=rv, ax=ax, color=RED, linewidth=2.3, estimator=None,
                 sort=False, zorder=3)
    ax.set_xlabel(""); ax.set_ylabel("")
    ax.set_yticks(ticks)
    ax.set_yticklabels([str(k) for k in ticks])
    if side == "right":
        ax.tick_params(axis="y", left=False, labelleft=False, right=True, labelright=True)
    else:
        ax.tick_params(axis="y", left=True, labelleft=True, right=False, labelright=False)
    ax.tick_params(axis="y", direction="out", length=3.5, width=0.8, color="black",
                   labelsize=8.5, pad=1.5, labelcolor=TXT)
    fig.text(407 / W, 1 - base / H, name, ha="center", va="baseline",
             fontsize=17, color=TXT)

fig.savefig("out.png", dpi=100, facecolor="white")
